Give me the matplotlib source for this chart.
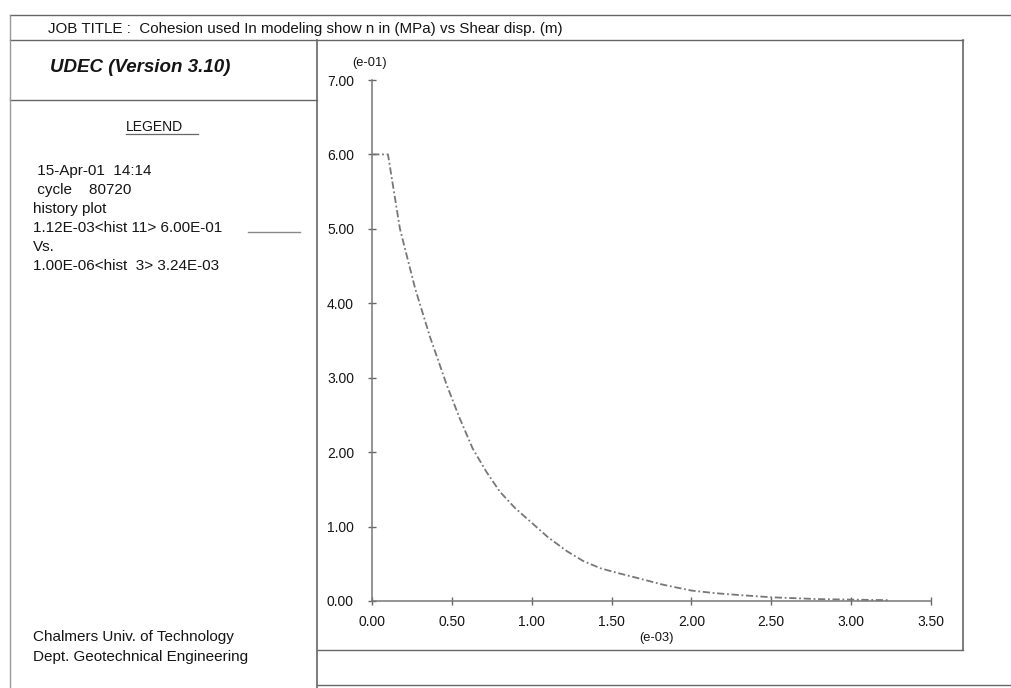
import numpy as np
import matplotlib.pyplot as plt

plt.rcParams['font.family'] = ['Liberation Sans', 'DejaVu Sans']

# history 11 (cohesion, e-01 MPa) against history 3 (shear disp., e-03 m)
shear_disp = [0.001, 0.10, 0.175, 0.27, 0.363, 0.47, 0.55, 0.63, 0.715, 0.80,
              0.895, 0.99, 1.10, 1.22, 1.32, 1.43, 1.55, 1.66, 1.82, 2.00,
              2.15, 2.30, 2.50, 2.80, 3.24]
cohesion = [6.00, 6.00, 5.00, 4.20, 3.55, 2.89, 2.45, 2.05, 1.74, 1.47,
            1.25, 1.07, 0.86, 0.67, 0.54, 0.44, 0.37, 0.31, 0.22, 0.14,
            0.105, 0.08, 0.05, 0.025, 0.011]

x_ticks = [0.0, 0.5, 1.0, 1.5, 2.0, 2.5, 3.0, 3.5]
y_ticks = [0, 1, 2, 3, 4, 5, 6, 7]

legend_lines = [" 15-Apr-01  14:14", " cycle    80720", "history plot",
                "1.12E-03<hist 11> 6.00E-01", "Vs.", "1.00E-06<hist  3> 3.24E-03"]

W, H = 1011, 688
fig = plt.figure(figsize=(W / 100, H / 100), dpi=100)

# page frame drawn in pixel coordinates
frame = fig.add_axes([0, 0, 1, 1])
frame.set_xlim(0, W)
frame.set_ylim(H, 0)
frame.axis('off')

lc = '#666666'
tc = '#151515'
frame.plot([10, W], [15, 15], color=lc, lw=1.0)
frame.plot([10, 963], [40, 40], color=lc, lw=1.0)
frame.plot([10, 317], [100, 100], color=lc, lw=1.0)
frame.plot([10, 10], [15, H], color='#999999', lw=1.0)
frame.plot([317, 317], [40, H], color=lc, lw=1.2)
frame.plot([963, 963], [40, 650], color=lc, lw=1.2)
frame.plot([317, 963], [650, 650], color=lc, lw=1.0)
frame.plot([317, W], [685, 685], color=lc, lw=1.0)

frame.text(48, 29, "JOB TITLE :  Cohesion used In modeling show n in (MPa) vs Shear disp. (m)",
           fontsize=10.9, color=tc, va='center')
frame.text(50, 68, "UDEC (Version 3.10)", fontsize=13.5, fontweight='bold',
           fontstyle='italic', color=tc, va='center')
frame.text(126, 127, "LEGEND", fontsize=10, color=tc, va='center')
frame.plot([126, 198], [134, 134], color=lc, lw=0.9)

for i, line in enumerate(legend_lines):
    frame.text(33, 171 + i * 19, line, fontsize=11, color=tc, va='center')
frame.plot([248, 300], [232, 232], color='#888888', lw=1.0)

frame.text(33, 637, "Chalmers Univ. of Technology", fontsize=11, color=tc, va='center')
frame.text(33, 657, "Dept. Geotechnical Engineering", fontsize=11, color=tc, va='center')

# history plot axes
x0, x1, y0, y1 = 372, 931, 601, 80
ax = fig.add_axes([x0 / W, 1 - y0 / H, (x1 - x0) / W, (y0 - y1) / H])
ax.set_xlim(0, 3.5)
ax.set_ylim(0, 7)
ax.patch.set_alpha(0)
for s in ['top', 'right']:
    ax.spines[s].set_visible(False)
for s in ['left', 'bottom']:
    ax.spines[s].set_color('#777777')
    ax.spines[s].set_linewidth(1.1)

ax.plot(shear_disp, cohesion, color='#777777', lw=1.3, ls=(0, (4, 1.5, 1, 1.5)),
        clip_on=False)

ax.set_xticks(x_ticks)
ax.set_xticklabels([f"{v:.2f}" for v in x_ticks])
ax.set_yticks(y_ticks)
ax.set_yticklabels([f"{v:.2f}" for v in y_ticks])
ax.tick_params(direction='inout', length=6, width=1.0, color='#666666',
               labelsize=10, labelcolor=tc)
ax.tick_params(axis='y', pad=10)
ax.tick_params(axis='x', pad=7)

frame.text(370, 63, "(e-01)", fontsize=9.3, color=tc, ha='center', va='center')
frame.text(657, 638, "(e-03)", fontsize=9.3, color=tc, ha='center', va='center')

fig.savefig("out.png", dpi=100)
